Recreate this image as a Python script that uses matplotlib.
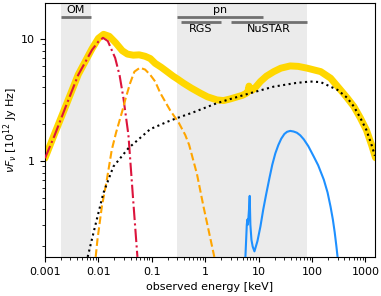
import matplotlib
matplotlib.use('Agg')
import matplotlib.pyplot as plt
import matplotlib.transforms as mtransforms

# observed energy [keV] and nuFnu [1e12 Jy Hz]
e_total = [0.001, 0.0015, 0.0024, 0.0042, 0.0076, 0.010, 0.0125, 0.016, 0.021,
           0.028, 0.035, 0.045, 0.058, 0.075, 0.0935, 0.1157, 0.15, 0.192, 0.25,
           0.3, 0.39, 0.55, 0.81, 1.1, 1.65, 2.2, 2.95, 4.0, 5.0, 6.0, 6.3, 6.6,
           6.9, 7.5, 8.5, 10.8, 14, 19.2, 26, 39, 55, 81, 145, 222, 340, 450,
           605, 800, 1040, 1300, 1540]
f_total = [1.05, 1.65, 2.75, 5.1, 8.3, 10.1, 10.9, 10.5, 9.3,
           8.0, 7.5, 7.35, 7.4, 7.2, 6.9, 6.3, 5.85, 5.4, 4.95,
           4.7, 4.34, 3.95, 3.59, 3.35, 3.16, 3.12, 3.22, 3.35, 3.45, 3.6, 3.7, 4.1,
           3.8, 3.8, 3.95, 4.47, 4.95, 5.39, 5.75, 6.0, 5.95, 5.75, 5.39, 4.76, 3.82, 3.3,
           2.79, 2.25, 1.79, 1.35, 1.06]

e_disk = [0.001, 0.0015, 0.0024, 0.0042, 0.0076, 0.010, 0.0122, 0.015, 0.0206,
          0.025, 0.0294, 0.0365, 0.0443, 0.0538]
f_disk = [1.05, 1.6, 2.72, 5.07, 8.12, 9.5, 10.2, 9.6, 6.98,
          5.0, 3.28, 1.63, 0.51, 0.163]

e_warm = [0.0089, 0.0096, 0.0116, 0.0144, 0.0178, 0.0214, 0.0283, 0.0318,
          0.0393, 0.0473, 0.06, 0.075, 0.0935, 0.1157, 0.144, 0.22, 0.32,
          0.4225, 0.5, 0.7, 0.93, 1.2, 1.48]
f_warm = [0.163, 0.225, 0.42, 0.70, 1.23, 1.70, 2.6, 3.16,
          4.34, 5.39, 5.8, 5.6, 5.07, 4.47, 3.6, 2.6, 2.05,
          1.63, 1.35, 0.78, 0.42, 0.25, 0.163]

e_pl = [0.0063, 0.00866, 0.0124, 0.0191, 0.0365, 0.0935, 0.2, 0.295, 0.6,
        1.65, 3.0, 7.0, 19.2, 50, 93, 145, 298, 450, 605, 800, 1040, 1300, 1500]
f_pl = [0.163, 0.29, 0.544, 0.898, 1.27, 1.82, 2.1, 2.24, 2.5,
        2.97, 3.22, 3.59, 4.06, 4.35, 4.47, 4.42, 3.82, 3.3, 2.79, 2.25, 1.79, 1.35, 1.1]

e_refl = [5.65, 6.0, 6.15, 6.3, 6.6, 6.8, 7.0, 7.33, 7.74, 8.34, 9.5, 10.8, 12.2,
          13.8, 16, 18, 20.5, 23.4, 26.5, 30.3, 34, 39, 45, 52, 60, 70, 85, 108,
          130, 166, 195, 222, 245, 265, 285, 300]
f_refl = [0.163, 0.30, 0.33, 0.30, 0.40, 0.516, 0.30, 0.225, 0.198, 0.181, 0.22, 0.29, 0.40,
          0.53, 0.73, 0.93, 1.15, 1.35, 1.52, 1.66, 1.73, 1.76, 1.74, 1.70, 1.62, 1.5, 1.32, 1.08,
          0.92, 0.70, 0.55, 0.42, 0.33, 0.26, 0.2, 0.163]

# instrument coverage [keV]
instruments = ['OM', 'pn', 'RGS', 'NuSTAR']
inst_lo = [0.002, 0.3, 0.35, 3.0]
inst_hi = [0.0073, 12.0, 2.0, 79.0]

plt.rcParams['font.size'] = 8
fig = plt.figure(figsize=(3.81, 2.96), dpi=100)
ax = fig.add_axes([0.118, 0.132, 0.866, 0.858])

ax.axvspan(0.002, 0.0073, color='#ebebeb', lw=0, zorder=0)
ax.axvspan(0.3, 79, color='#ebebeb', lw=0, zorder=0)

ax.plot(e_total, f_total, color='gold', lw=5, solid_capstyle='round',
        solid_joinstyle='round', zorder=2)
ax.plot(e_disk, f_disk, color='crimson', lw=1.5, ls='-.', zorder=3)
ax.plot(e_warm, f_warm, color='orange', lw=1.5, ls='--', zorder=3)
ax.plot(e_pl, f_pl, color='black', lw=1.5, ls=':', zorder=3)
ax.plot(e_refl, f_refl, color='dodgerblue', lw=1.5, zorder=3)

ax.set_xscale('log')
ax.set_yscale('log')
ax.set_xlim(0.001, 1500)
ax.set_ylim(0.163, 19.7)

trans = mtransforms.blended_transform_factory(ax.transData, ax.transAxes)
levels = [0.943, 0.943, 0.925, 0.925]
for name, lo, hi, lev in zip(instruments, inst_lo, inst_hi, levels):
    ax.plot([lo, hi], [lev, lev], color='#707070', lw=2, transform=trans,
            solid_capstyle='butt', zorder=4)
    mid = (lo * hi) ** 0.5
    if lev > 0.93:
        ax.text(mid, lev + 0.008, name, transform=trans, ha='center', va='bottom')
    else:
        ax.text(mid, lev - 0.008, name, transform=trans, ha='center', va='top')

ax.set_xticks([0.001, 0.01, 0.1, 1, 10, 100, 1000])
ax.set_xticklabels(['0.001', '0.01', '0.1', '1', '10', '100', '1000'])
ax.set_yticks([1, 10])
ax.set_yticklabels(['1', '10'])
ax.set_xlabel('observed energy [keV]')
ax.set_ylabel(r'$\nu F_\nu$ [$10^{12}$ Jy Hz]', labelpad=1)

fig.savefig('out.png', dpi=100)
